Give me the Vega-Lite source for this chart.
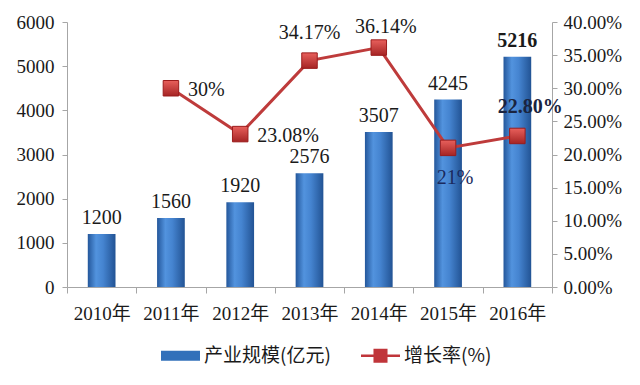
{
  "$schema": "https://vega.github.io/schema/vega-lite/v6.json",
  "width": 485,
  "height": 265,
  "autosize": {"type": "none"},
  "padding": {"left": 67, "top": 22, "right": 88, "bottom": 98},
  "background": "white",
  "config": {
    "view": {"stroke": null},
    "font": "Liberation Serif",
    "legend": {
      "orient": "none",
      "legendX": 94,
      "legendY": 314,
      "direction": "horizontal",
      "title": null,
      "labelFont": "Noto Sans CJK SC",
      "labelFontSize": 19,
      "labelColor": "#1a1a1a",
      "symbolSize": 1521,
      "symbolStrokeWidth": 0,
      "symbolOpacity": 1,
      "columnPadding": 30,
      "labelOffset": 4
    }
  },
  "datasets": {
    "main": [
      {"year": "2010年", "size": 1200, "rate": null, "rate_label": ""},
      {"year": "2011年", "size": 1560, "rate": 0.30, "rate_label": "30%"},
      {"year": "2012年", "size": 1920, "rate": 0.2308, "rate_label": "23.08%"},
      {"year": "2013年", "size": 2576, "rate": 0.3417, "rate_label": "34.17%"},
      {"year": "2014年", "size": 3507, "rate": 0.3614, "rate_label": "36.14%"},
      {"year": "2015年", "size": 4245, "rate": 0.21, "rate_label": "21%"},
      {"year": "2016年", "size": 5216, "rate": 0.228, "rate_label": "22.80%"}
    ],
    "legend": [
      {"series": "产业规模(亿元)"},
      {"series": "增长率(%)"}
    ]
  },
  "data": {"name": "main"},
  "layer": [
    {
      "encoding": {
        "x": {
          "field": "year", "type": "nominal", "sort": null,
          "scale": {"paddingInner": 0, "paddingOuter": 0},
          "axis": {
            "title": null, "labelAngle": 0, "tickBand": "extent",
            "labelFont": "Liberation Serif, Noto Sans CJK SC", "labelFontSize": 19,
            "labelColor": "#1a1a1a", "domainColor": "#A6A6A6", "tickColor": "#A6A6A6",
            "tickSize": 6, "labelPadding": 11, "grid": false
          }
        },
        "y": {
          "field": "size", "type": "quantitative",
          "scale": {"domain": [0, 6000], "nice": false},
          "axis": {
            "title": null, "values": [0, 1000, 2000, 3000, 4000, 5000, 6000],
            "labelFontSize": 19, "labelColor": "#1a1a1a", "labelFont": "Liberation Serif",
            "domainColor": "#A6A6A6", "tickColor": "#A6A6A6", "tickSize": 5,
            "labelPadding": 8, "grid": false, "format": "d"
          }
        }
      },
      "layer": [
        {
          "mark": {
            "type": "bar", "width": {"band": 0.4},
            "fill": {
              "gradient": "linear", "x1": 0, "x2": 1, "y1": 0, "y2": 0,
              "stops": [
                {"offset": 0, "color": "#24579B"},
                {"offset": 0.3, "color": "#5293DE"},
                {"offset": 0.55, "color": "#4584D0"},
                {"offset": 1, "color": "#225394"}
              ]
            }
          }
        },
        {
          "transform": [{"filter": "datum.year != '2016年'"}],
          "mark": {"type": "text", "baseline": "bottom", "dy": -6, "fontSize": 20, "font": "Liberation Serif", "color": "#1a1a1a"},
          "encoding": {"text": {"field": "size", "type": "quantitative", "format": "d"}}
        },
        {
          "transform": [{"filter": "datum.year == '2016年'"}],
          "mark": {"type": "text", "baseline": "bottom", "dy": -6, "fontSize": 20, "font": "Liberation Serif", "fontWeight": "bold", "color": "#1a1a1a"},
          "encoding": {"text": {"field": "size", "type": "quantitative", "format": "d"}}
        }
      ]
    },
    {
      "transform": [{"filter": "datum.rate != null"}],
      "encoding": {
        "x": {
          "field": "year", "type": "nominal", "sort": null,
          "scale": {"paddingInner": 0, "paddingOuter": 0},
          "axis": {
            "title": null, "labelAngle": 0, "tickBand": "extent",
            "labelFont": "Liberation Serif, Noto Sans CJK SC", "labelFontSize": 19,
            "labelColor": "#1a1a1a", "domainColor": "#A6A6A6", "tickColor": "#A6A6A6",
            "tickSize": 6, "labelPadding": 11, "grid": false
          }
        },
        "y": {
          "field": "rate", "type": "quantitative",
          "scale": {"domain": [0, 0.4], "nice": false},
          "axis": {
            "title": null, "orient": "right",
            "values": [0, 0.05, 0.1, 0.15, 0.2, 0.25, 0.3, 0.35, 0.4],
            "format": ".2%",
            "labelFontSize": 19, "labelColor": "#1a1a1a", "labelFont": "Liberation Serif",
            "domainColor": "#A6A6A6", "tickColor": "#A6A6A6", "tickSize": 5,
            "labelPadding": 6, "grid": false
          }
        }
      },
      "layer": [
        {"mark": {"type": "line", "color": "#BE3B3B", "strokeWidth": 3}},
        {
          "mark": {
            "type": "point", "shape": "square", "size": 240, "filled": true, "opacity": 1,
            "fill": {
              "gradient": "linear", "x1": 0, "x2": 0, "y1": 0, "y2": 1,
              "stops": [
                {"offset": 0, "color": "#E8605C"},
                {"offset": 1, "color": "#A52424"}
              ]
            },
            "stroke": "#9B1C1C", "strokeWidth": 1
          }
        },
        {
          "transform": [{"filter": "datum.year == '2011年' || datum.year == '2012年'"}],
          "mark": {"type": "text", "align": "left", "baseline": "middle", "dx": 17, "dy": 2, "fontSize": 20, "color": "#1a1a1a"},
          "encoding": {"text": {"field": "rate_label"}}
        },
        {
          "transform": [{"filter": "datum.year == '2013年'"}],
          "mark": {"type": "text", "align": "center", "baseline": "middle", "dy": -28, "fontSize": 20, "color": "#1a1a1a"},
          "encoding": {"text": {"field": "rate_label"}}
        },
        {
          "transform": [{"filter": "datum.year == '2014年'"}],
          "mark": {"type": "text", "align": "center", "baseline": "middle", "dx": 7, "dy": -21, "fontSize": 20, "color": "#1a1a1a"},
          "encoding": {"text": {"field": "rate_label"}}
        },
        {
          "transform": [{"filter": "datum.year == '2015年'"}],
          "mark": {"type": "text", "align": "center", "baseline": "middle", "dx": 7, "dy": 30, "fontSize": 20, "color": "#1A2A5E"},
          "encoding": {"text": {"field": "rate_label"}}
        },
        {
          "transform": [{"filter": "datum.year == '2016年'"}],
          "mark": {"type": "text", "align": "center", "baseline": "middle", "dx": 13, "dy": -29, "fontSize": 20, "fontWeight": "bold", "color": "#1a2440"},
          "encoding": {"text": {"field": "rate_label"}}
        }
      ]
    },
    {
      "data": {"name": "legend"},
      "mark": {"type": "point", "filled": true, "size": 0, "opacity": 1},
      "encoding": {
        "color": {
          "field": "series", "type": "nominal", "sort": null,
          "scale": {"domain": ["产业规模(亿元)", "增长率(%)"], "range": ["#3270BA", "#C0353A"]}
        },
        "shape": {
          "field": "series", "type": "nominal", "sort": null,
          "scale": {
            "domain": ["产业规模(亿元)", "增长率(%)"],
            "range": [
              "M-1,-0.26H1V0.26H-1Z",
              "M-1,-0.07H-0.36V-0.36H0.36V-0.07H1V0.07H0.36V0.36H-0.36V0.07H-1Z"
            ]
          }
        }
      }
    }
  ],
  "resolve": {"scale": {"y": "independent"}}
}
